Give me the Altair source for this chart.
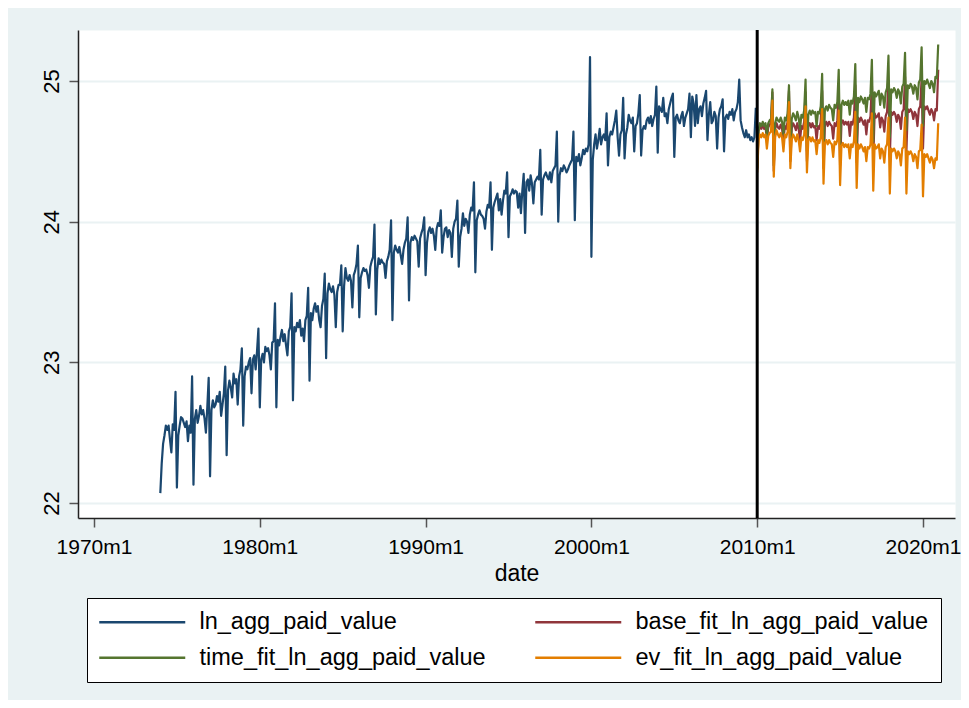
import altair as alt
import pandas as pd

# ---------------- data (monthly) ----------------
ln_start_year = 1974  # first value is 1974m1

ln_agg_1970s = [
    22.07, 22.28, 22.42, 22.48, 22.55, 22.52, 22.55, 22.45, 22.36, 22.56, 22.52, 22.79,
    22.11, 22.48, 22.55, 22.61, 22.60, 22.57, 22.54, 22.58, 22.44, 22.55, 22.50, 22.90,
    22.13, 22.60, 22.66, 22.57, 22.62, 22.69, 22.63, 22.66, 22.60, 22.50, 22.68, 22.89,
    22.19, 22.66, 22.73, 22.68, 22.70, 22.76, 22.72, 22.79, 22.62, 22.70, 22.78, 22.97,
    22.34, 22.80, 22.87, 22.82, 22.75, 22.92, 22.85, 22.88, 22.70, 22.90, 22.95, 23.10,
    22.55, 22.90, 22.97, 22.95, 23.00, 23.03, 22.78, 23.02, 23.05, 22.95, 23.08, 23.24,
]
ln_agg_1980s = [
    22.68, 23.02, 23.06, 23.00, 23.11, 23.08, 23.10, 23.05, 22.95, 23.14, 23.15, 23.42,
    22.68, 23.16, 23.12, 23.18, 23.23, 23.15, 23.20, 23.12, 23.05, 23.22, 23.25, 23.49,
    22.73, 23.25, 23.22, 23.28, 23.25, 23.30, 23.19, 23.24, 23.15, 23.30, 23.33, 23.53,
    22.87, 23.35, 23.30, 23.38, 23.42, 23.36, 23.40, 23.30, 23.25, 23.40, 23.45, 23.63,
    23.03, 23.49, 23.56, 23.52, 23.50, 23.54, 23.48, 23.25, 23.50, 23.55, 23.55, 23.69,
    23.22, 23.54, 23.67, 23.60, 23.58, 23.62, 23.58, 23.39, 23.62, 23.65, 23.70, 23.83,
    23.32, 23.60, 23.64, 23.67, 23.65, 23.66, 23.62, 23.53, 23.68, 23.72, 23.75, 23.98,
    23.34, 23.66, 23.74, 23.70, 23.73, 23.71, 23.70, 23.60, 23.72, 23.75, 23.80, 24.01,
    23.30, 23.78, 23.83, 23.80, 23.78, 23.82, 23.76, 23.70, 23.80, 23.85, 23.88, 24.03,
    23.44, 23.85, 23.89, 23.87, 23.90, 23.88, 23.86, 23.68, 23.88, 23.92, 23.95, 24.03,
]
ln_agg_1990s = [
    23.62, 23.85, 23.93, 23.96, 23.92, 23.95, 23.90, 23.80, 23.95, 23.99, 23.97, 24.08,
    23.78, 23.89, 23.95, 23.96, 23.89, 23.94, 23.92, 23.75, 23.95, 24.00, 24.02, 24.15,
    23.68, 23.89, 23.95, 24.06, 23.97, 24.02, 24.00, 23.92, 24.05, 24.10, 24.08, 24.28,
    23.64, 24.01, 24.05, 24.08, 24.05, 24.04, 24.02, 23.95, 24.07, 24.12, 24.10, 24.28,
    23.80, 24.10, 24.14, 24.17, 24.20, 24.08, 24.16, 24.05, 24.15, 24.22, 24.20, 24.35,
    23.89, 24.18, 24.20, 24.23, 24.20, 24.22, 24.21, 24.10, 24.20, 24.06, 24.22, 24.34,
    23.92, 24.28, 24.30, 24.22, 24.33, 24.27, 24.13, 24.28, 24.30, 24.32, 24.30, 24.51,
    24.05, 24.30, 24.33, 24.35, 24.32, 24.30, 24.35, 24.28, 24.36, 24.38, 24.40, 24.64,
    24.00, 24.33, 24.38, 24.36, 24.40, 24.38, 24.35, 24.37, 24.40, 24.42, 24.44, 24.64,
    24.01, 24.46, 24.43, 24.48, 24.40, 24.45, 24.51, 24.48, 24.52, 24.50, 24.55, 25.17,
]
ln_agg_2000s = [
    23.75, 24.44, 24.55, 24.62, 24.52, 24.58, 24.66, 24.55, 24.60, 24.62, 24.58, 24.77,
    24.40, 24.60, 24.64, 24.62, 24.67, 24.72, 24.79, 24.60, 24.47, 24.62, 24.65, 24.88,
    24.45, 24.62, 24.67, 24.76, 24.72, 24.70, 24.74, 24.50, 24.68, 24.70, 24.77, 24.90,
    24.47, 24.65, 24.68, 24.66, 24.72, 24.74, 24.70, 24.75, 24.68, 24.73, 24.76, 24.96,
    24.49, 24.82, 24.80, 24.78, 24.88, 24.75, 24.77, 24.70, 24.80, 24.84, 24.88, 24.91,
    24.46, 24.74, 24.76, 24.72, 24.70, 24.75, 24.78, 24.68, 24.74, 24.77, 24.80, 24.91,
    24.60, 24.89, 24.84, 24.68, 24.90, 24.70, 24.80, 24.82, 24.75, 24.84, 24.88, 24.93,
    24.58, 24.76, 24.85, 24.70, 24.72, 24.78, 24.75, 24.52, 24.74, 24.80, 24.82, 24.87,
    24.50, 24.74, 24.76, 24.73, 24.78, 24.76, 24.80, 24.72, 24.78, 24.80, 24.85, 25.01,
    24.72, 24.67, 24.63, 24.60, 24.65, 24.60, 24.62, 24.58, 24.60, 24.57, 24.60, 24.81,
]

fit_start_year = 2010  # fits start 2010m1

base_fit = [
    24.37, 24.64, 24.68, 24.66, 24.69, 24.66, 24.68, 24.58, 24.67, 24.69, 24.70, 24.92,
    24.36, 24.66, 24.70, 24.67, 24.66, 24.69, 24.66, 24.57, 24.68, 24.66, 24.71, 24.93,
    24.43, 24.66, 24.70, 24.68, 24.65, 24.70, 24.66, 24.58, 24.68, 24.66, 24.71, 24.92,
    24.43, 24.68, 24.70, 24.67, 24.70, 24.67, 24.68, 24.58, 24.68, 24.66, 24.71, 24.93,
    24.38, 24.69, 24.71, 24.68, 24.71, 24.69, 24.68, 24.59, 24.70, 24.68, 24.72, 24.95,
    24.40, 24.70, 24.72, 24.69, 24.71, 24.69, 24.71, 24.61, 24.71, 24.69, 24.74, 24.97,
    24.42, 24.74, 24.71, 24.74, 24.72, 24.69, 24.72, 24.62, 24.72, 24.71, 24.75, 24.99,
    24.44, 24.77, 24.74, 24.75, 24.77, 24.67, 24.74, 24.72, 24.64, 24.75, 24.78, 25.00,
    24.46, 24.78, 24.76, 24.78, 24.76, 24.71, 24.76, 24.74, 24.66, 24.78, 24.80, 25.03,
    24.50, 24.80, 24.78, 24.80, 24.78, 24.73, 24.78, 24.76, 24.68, 24.80, 24.82, 25.02,
    24.52, 24.82, 24.80, 24.82, 24.79, 24.76, 24.80, 24.78, 24.72, 24.80, 24.79, 25.08,
]
time_fit = [
    24.38, 24.65, 24.70, 24.68, 24.71, 24.68, 24.70, 24.61, 24.70, 24.72, 24.73, 24.94,
    24.40, 24.70, 24.74, 24.72, 24.71, 24.74, 24.71, 24.62, 24.74, 24.72, 24.77, 24.97,
    24.48, 24.73, 24.77, 24.75, 24.72, 24.78, 24.74, 24.66, 24.76, 24.74, 24.79, 25.01,
    24.50, 24.76, 24.79, 24.76, 24.79, 24.77, 24.78, 24.68, 24.78, 24.77, 24.82, 25.05,
    24.47, 24.80, 24.82, 24.79, 24.83, 24.81, 24.80, 24.72, 24.83, 24.81, 24.85, 25.08,
    24.50, 24.83, 24.86, 24.83, 24.85, 24.83, 24.86, 24.76, 24.86, 24.84, 24.89, 25.12,
    24.54, 24.88, 24.85, 24.89, 24.87, 24.84, 24.88, 24.78, 24.88, 24.87, 24.91, 25.15,
    24.57, 24.92, 24.89, 24.91, 24.93, 24.83, 24.91, 24.89, 24.81, 24.92, 24.95, 25.18,
    24.60, 24.94, 24.92, 24.95, 24.93, 24.88, 24.94, 24.92, 24.84, 24.96, 24.98, 25.20,
    24.65, 24.97, 24.95, 24.98, 24.96, 24.91, 24.97, 24.95, 24.87, 24.99, 25.01, 25.24,
    24.68, 25.00, 24.98, 25.01, 24.98, 24.95, 25.00, 24.98, 24.92, 25.03, 25.02, 25.26,
]
ev_fit = [
    24.35, 24.58, 24.62, 24.60, 24.63, 24.60, 24.62, 24.52, 24.61, 24.63, 24.64, 24.86,
    24.32, 24.60, 24.65, 24.62, 24.60, 24.63, 24.60, 24.50, 24.62, 24.60, 24.64, 24.85,
    24.38, 24.58, 24.62, 24.60, 24.57, 24.62, 24.58, 24.50, 24.60, 24.58, 24.62, 24.82,
    24.35, 24.58, 24.60, 24.57, 24.60, 24.57, 24.58, 24.48, 24.58, 24.56, 24.60, 24.80,
    24.27, 24.56, 24.58, 24.55, 24.58, 24.56, 24.55, 24.46, 24.57, 24.55, 24.58, 24.79,
    24.26, 24.54, 24.56, 24.53, 24.55, 24.53, 24.55, 24.45, 24.55, 24.53, 24.57, 24.78,
    24.24, 24.55, 24.52, 24.55, 24.53, 24.50, 24.53, 24.43, 24.53, 24.52, 24.55, 24.77,
    24.22, 24.55, 24.52, 24.53, 24.55, 24.45, 24.52, 24.50, 24.42, 24.53, 24.55, 24.74,
    24.20, 24.52, 24.50, 24.52, 24.50, 24.45, 24.50, 24.48, 24.40, 24.52, 24.53, 24.74,
    24.20, 24.50, 24.48, 24.50, 24.48, 24.43, 24.48, 24.46, 24.38, 24.50, 24.51, 24.69,
    24.18, 24.48, 24.46, 24.48, 24.45, 24.42, 24.46, 24.44, 24.38, 24.45, 24.44, 24.70,
]

break_date = [2010.0]  # xline(2010m1)

series_names = [
    "ln_agg_paid_value",
    "base_fit_ln_agg_paid_value",
    "time_fit_ln_agg_paid_value",
    "ev_fit_ln_agg_paid_value",
]
series_colors = ["#1A476F", "#90353B", "#55752F", "#E37E00"]
x_ticks = [1970, 1980, 1990, 2000, 2010, 2020]
y_ticks = [22, 23, 24, 25]

# ---------------- build long table ----------------
def monthly(start_year, values, name):
    return pd.DataFrame({
        "t": [start_year + i / 12.0 for i in range(len(values))],
        "value": values,
        "series": name,
    })

ln_all = ln_agg_1970s + ln_agg_1980s + ln_agg_1990s + ln_agg_2000s
df = pd.concat([
    monthly(ln_start_year, ln_all, series_names[0]),
    monthly(fit_start_year, base_fit, series_names[1]),
    monthly(fit_start_year, time_fit, series_names[2]),
    monthly(fit_start_year, ev_fit, series_names[3]),
], ignore_index=True)

FONT = "Liberation Sans"
BG = "#EAF2F3"

x_scale = alt.Scale(domain=[1969.035, 2021.93], nice=False, zero=False)
y_scale = alt.Scale(domain=[21.8934, 25.3626], nice=False, zero=False)

x_axis = alt.Axis(
    values=x_ticks, labelExpr="datum.value + 'm1'", title="date", grid=False,
    tickSize=9, tickColor="#555555", tickWidth=1.5,
    domainColor="#222222", domainWidth=1.5,
    labelFontSize=21, titleFontSize=23, labelColor="black", titleColor="black",
    labelPadding=9, titlePadding=5, titleFontWeight="normal",
    labelFlush=False, labelOverlap=False, labelFont=FONT, titleFont=FONT,
)
y_axis = alt.Axis(
    values=y_ticks, title=None, grid=True, gridColor=BG, gridWidth=2,
    tickSize=9, tickColor="#555555", tickWidth=1.5,
    domainColor="#222222", domainWidth=1.5,
    labelAngle=270, labelAlign="center", labelBaseline="alphabetic",
    labelPadding=11, labelFontSize=22, labelColor="black",
    labelFlush=False, labelOverlap=False, labelFont=FONT,
)

legend = alt.Legend(
    title=None, orient="none", legendX=9, legendY=568,
    direction="horizontal", columns=2,
    symbolType="M-1.15,0H7.45", symbolSize=400, symbolStrokeWidth=2.5,
    labelFont=FONT, labelFontSize=23.5, labelColor="black", labelOffset=77,
    labelLimit=600, fillColor="white", strokeColor="black",
    padding=12, columnPadding=44, rowPadding=11,
)

lines = alt.Chart(df).mark_line(strokeWidth=2.2, strokeJoin="round").encode(
    x=alt.X("t:Q", scale=x_scale, axis=x_axis),
    y=alt.Y("value:Q", scale=y_scale, axis=y_axis),
    color=alt.Color("series:N", scale=alt.Scale(domain=series_names, range=series_colors),
                    legend=legend),
)

rule = alt.Chart(pd.DataFrame({"t": break_date})).mark_rule(color="black", strokeWidth=3).encode(
    x=alt.X("t:Q", scale=x_scale),
)

chart = alt.layer(lines, rule).properties(
    width=877, height=488,
    autosize=alt.AutoSizeParams(type="none"),
    padding={"left": 70, "top": 22, "right": 6, "bottom": 182},
).configure(
    background=BG, font=FONT,
).configure_view(
    fill="white", stroke="transparent",
)

chart.save("out.html", embed_options={"renderer": "svg", "actions": False})
